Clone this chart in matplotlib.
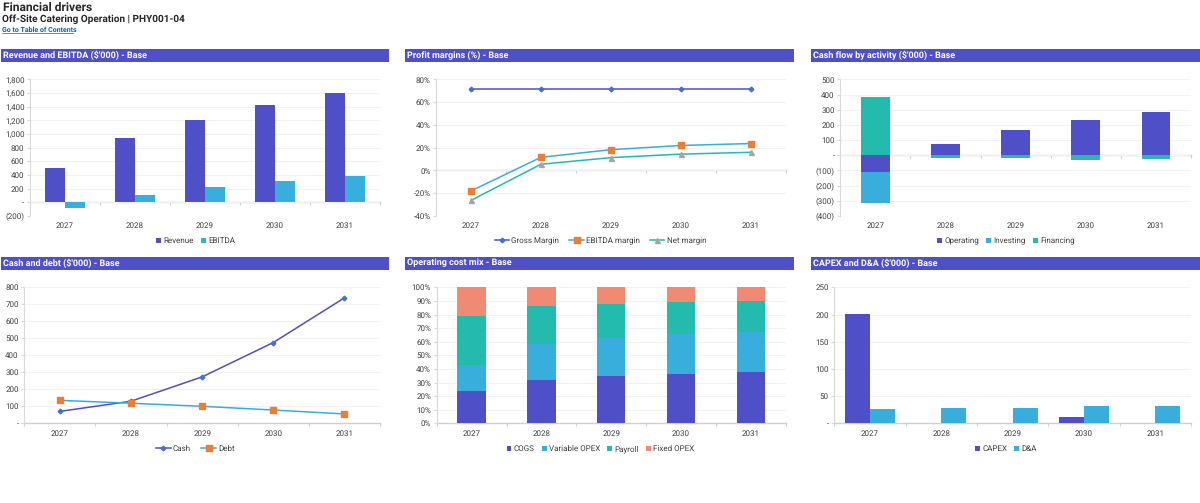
import matplotlib
matplotlib.use("Agg")
import matplotlib.pyplot as plt
from matplotlib.patches import Rectangle

plt.rcParams.update({"font.family": "Roboto", "text.hinting": "none", "text.hinting_factor": 1})

YEARS = ["2027", "2028", "2029", "2030", "2031"]

REVENUE = [500, 945, 1205, 1425, 1600]
EBITDA = [-90, 110, 220, 315, 380]

GROSS_MARGIN = [71.5, 71.5, 71.5, 71.5, 71.5]
EBITDA_MARGIN = [-18, 11.6, 18.3, 22, 23.7]
NET_MARGIN = [-26.3, 5.5, 11.3, 14.4, 16]

OPERATING = [-112, 78, 165, 235, 288]
INVESTING = [-203, 0, 0, 0, 0]
FINANCING = [385, -18, -20, -33, -25]

CASH = [70, 130, 273, 475, 738]
DEBT = [135, 118, 100, 78, 55]

COGS = [24, 32, 35, 36.5, 37.5]
VARIABLE_OPEX = [19, 26, 28, 29, 29.5]
PAYROLL = [36, 28.5, 25, 23.7, 22.8]
FIXED_OPEX = [21, 13.5, 12, 10.8, 10.2]

CAPEX = [201, 0, 0, 12, 0]
DA = [27, 29, 29, 31, 31]

PURPLE = "#4F4FC8"
BLUE = "#38AEDD"
TEAL = "#22BBAE"
SALMON = "#F08A72"
TEXT = "#404040"
FONT = 5.7
W, H = 1200, 503


def fmt_thousands(v):
    if v == 0:
        return "-"
    if v < 0:
        return f"({-v:,})"
    return f"{v:,}"


def fmt_pct(v):
    return f"{v}%"


def make_axes(fig, left, right, top, bottom):
    return fig.add_axes([left / W, 1 - bottom / H, (right - left) / W, (bottom - top) / H])


def header(fig, left, right, top, text):
    fig.add_artist(Rectangle((left / W, 1 - (top + 13) / H), (right - left) / W, 13 / H,
                             transform=fig.transFigure, facecolor=PURPLE, edgecolor="none"))
    fig.text((left + 2) / W, 1 - (top + 6.7) / H, text, color="white", fontsize=6.7,
             fontweight="bold", va="center", ha="left")


def style_axes(ax, yticks, yfmt):
    ymin, ymax = yticks[0], yticks[-1]
    ax.set_xlim(-0.5, 4.5)
    ax.set_ylim(ymin, ymax)
    for name in ("top", "right", "bottom"):
        ax.spines[name].set_visible(False)
    ax.spines["left"].set_color("#D9D9D9")
    ax.spines["left"].set_linewidth(0.8)
    ax.set_axisbelow(True)
    ax.grid(True, axis="y", color="#F2F2F2", linewidth=0.8)
    ax.set_yticks(yticks)
    ax.set_yticklabels([yfmt(v) for v in yticks])
    ax.tick_params(axis="y", labelsize=FONT, colors=TEXT, length=2, color="#D9D9D9", pad=2)
    ax.tick_params(axis="y", labelcolor=TEXT)
    ax.set_xticks(range(len(YEARS)))
    ax.set_xticklabels(YEARS)
    ax.tick_params(axis="x", labelsize=FONT, labelcolor=TEXT, length=0, pad=4.5)

    # zero line with category boundary ticks, excel style
    frac = (0 - ymin) / (ymax - ymin)
    sec = ax.secondary_xaxis(frac)
    sec.set_xticks([-0.5, 0.5, 1.5, 2.5, 3.5, 4.5])
    sec.set_xticklabels([])
    sec.tick_params(length=2, color="#D0D0D0", width=0.8)
    sec.spines["bottom"].set_color("#D0D0D0")
    sec.spines["bottom"].set_linewidth(1.0)
    for name in ("top", "left", "right"):
        sec.spines[name].set_visible(False)


def bar_legend(ax, cx, cy):
    # legends sit centred on the chart frame, not on the plot area
    ax.legend(loc="center", bbox_to_anchor=(cx / W, 1 - cy / H),
              bbox_transform=ax.figure.transFigure, ncol=4, frameon=False,
              fontsize=FONT, labelcolor=TEXT, handlelength=0.6, handleheight=0.6,
              handletextpad=0.3, columnspacing=0.9, borderpad=0)


def line_legend(ax, cx, cy):
    ax.legend(loc="center", bbox_to_anchor=(cx / W, 1 - cy / H),
              bbox_transform=ax.figure.transFigure, ncol=4, frameon=False,
              fontsize=FONT, labelcolor=TEXT, handlelength=1.8, handletextpad=0.3,
              columnspacing=1.3, borderpad=0)


def plot_line(ax, values, color, marker, mcolor, size, label):
    ax.plot(range(len(values)), values, color=color, linewidth=1.1, marker=marker,
            markerfacecolor=mcolor, markeredgecolor=mcolor, markersize=size, label=label,
            clip_on=False, zorder=3)


def main():
    fig = plt.figure(figsize=(W / 100, H / 100), dpi=100)

    fig.text(3 / W, 1 - 7.5 / H, "Financial drivers", fontsize=8.4, fontweight="bold",
             color="#262626", va="center")
    fig.text(2.5 / W, 1 - 19.5 / H, "Off-Site Catering Operation | PHY001-04", fontsize=7.5,
             fontweight="bold", color="#262626", va="center")
    fig.text(2 / W, 1 - 30 / H, "Go to Table of Contents", fontsize=4.8, fontweight="bold",
             color="#0563C1", va="center")
    fig.add_artist(plt.Line2D([2 / W, 73 / W], [1 - 33 / H, 1 - 33 / H], color="#0563C1",
                              linewidth=0.5))

    header(fig, 1, 389, 49, "Revenue and EBITDA ($'000) - Base")
    header(fig, 405, 794, 49, "Profit margins (%) - Base")
    header(fig, 811, 1200, 49, "Cash flow by activity ($'000) - Base")
    header(fig, 1, 389, 256.5, "Cash and debt ($'000) - Base")
    header(fig, 405, 794, 256.5, "Operating cost mix - Base")
    header(fig, 811, 1200, 256.5, "CAPEX and D&A ($'000) - Base")

    x = list(range(len(YEARS)))

    # revenue and ebitda
    ax = make_axes(fig, 30, 380, 79.5, 216)
    w = 0.286
    ax.bar([i - w / 2 for i in x], REVENUE, w, color=PURPLE, label="Revenue")
    ax.bar([i + w / 2 for i in x], EBITDA, w, color=BLUE, label="EBITDA")
    style_axes(ax, list(range(-200, 1801, 200)), fmt_thousands)
    bar_legend(ax, 195.5, 241)

    # margins
    ax = make_axes(fig, 436, 785.7, 79.5, 216)
    plot_line(ax, GROSS_MARGIN, PURPLE, "D", "#4472C4", 2.4, "Gross Margin")
    plot_line(ax, EBITDA_MARGIN, BLUE, "s", "#ED7D31", 4, "EBITDA margin")
    plot_line(ax, NET_MARGIN, TEAL, "^", "#A5A5A5", 3.6, "Net margin")
    style_axes(ax, list(range(-40, 81, 20)), fmt_pct)
    line_legend(ax, 600.5, 241)

    # cash flow, stacked with negatives going down
    ax = make_axes(fig, 840.3, 1191, 79.5, 216)
    w = 0.41
    pos = [0] * 5
    neg = [0] * 5
    for values, color, label in [(OPERATING, PURPLE, "Operating"), (INVESTING, BLUE, "Investing"),
                                 (FINANCING, TEAL, "Financing")]:
        base = [pos[i] if values[i] >= 0 else neg[i] for i in x]
        ax.bar(x, values, w, bottom=base, color=color, label=label)
        for i in x:
            if values[i] >= 0:
                pos[i] += values[i]
            else:
                neg[i] += values[i]
    style_axes(ax, list(range(-400, 501, 100)), fmt_thousands)
    bar_legend(ax, 1006, 241)

    # cash and debt
    ax = make_axes(fig, 24.3, 380, 287.3, 423.3)
    plot_line(ax, CASH, PURPLE, "D", "#4472C4", 2.4, "Cash")
    plot_line(ax, DEBT, BLUE, "s", "#ED7D31", 4, "Debt")
    style_axes(ax, list(range(0, 801, 100)), fmt_thousands)
    line_legend(ax, 195.5, 449)

    # cost mix
    ax = make_axes(fig, 436.7, 785.7, 287.3, 423.3)
    w = 0.405
    base = [0] * 5
    for values, color, label in [(COGS, PURPLE, "COGS"), (VARIABLE_OPEX, BLUE, "Variable OPEX"),
                                 (PAYROLL, TEAL, "Payroll"), (FIXED_OPEX, SALMON, "Fixed OPEX")]:
        ax.bar(x, values, w, bottom=base, color=color, label=label)
        base = [b + v for b, v in zip(base, values)]
    style_axes(ax, list(range(0, 101, 10)), fmt_pct)
    bar_legend(ax, 600.5, 449)

    # capex and d&a
    ax = make_axes(fig, 834.3, 1191, 287.3, 423.3)
    w = 0.35
    ax.bar([i - w / 2 for i in x], CAPEX, w, color=PURPLE, label="CAPEX")
    ax.bar([i + w / 2 for i in x], DA, w, color=BLUE, label="D&A")
    style_axes(ax, list(range(0, 251, 50)), fmt_thousands)
    bar_legend(ax, 1006, 449)

    fig.savefig("out.png", dpi=100)


if __name__ == "__main__":
    main()
